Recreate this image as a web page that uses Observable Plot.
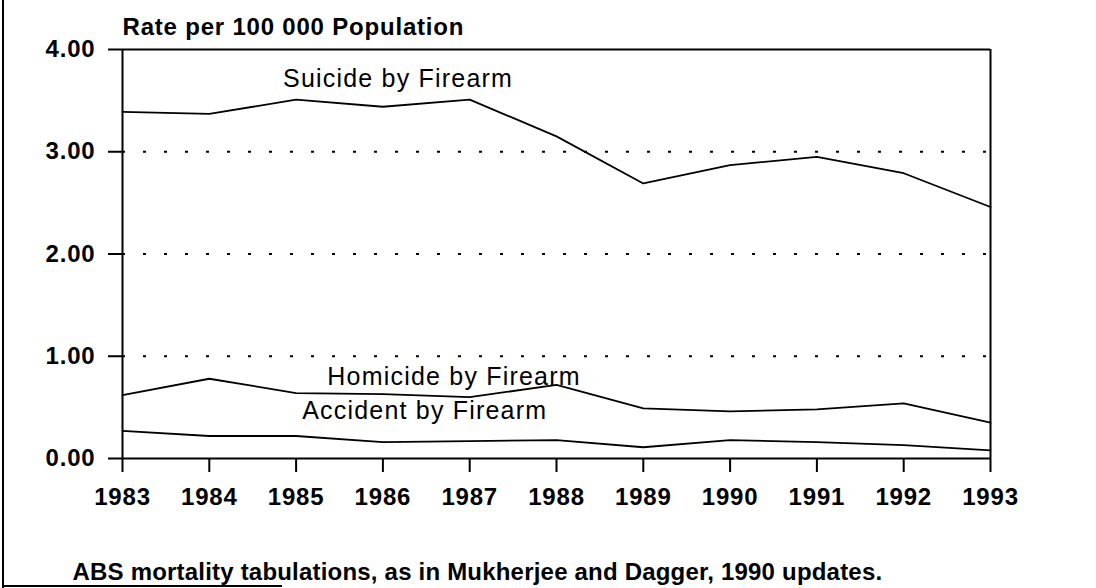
<!DOCTYPE html>
<html>
<head>
<meta charset="utf-8">
<script src="https://cdn.jsdelivr.net/npm/d3@7"></script>
<script src="https://cdn.jsdelivr.net/npm/@observablehq/plot@0.6"></script>
<style>
  html, body { margin: 0; padding: 0; background: #fff; }
  #wrap { position: relative; width: 1096px; height: 588px; overflow: hidden; }
  #wrap svg { position: absolute; left: 0; top: 0; }
  .border-left { position: absolute; left: 2px; top: 0; width: 2px; height: 588px; background: #000; }
  .border-bottom { position: absolute; left: 2px; top: 585px; width: 280px; height: 2px; background: #000; }
</style>
</head>
<body>
<div id="wrap"><div class="border-left"></div><div class="border-bottom"></div></div>
<script>
// ---- data ----
const years = [1983, 1984, 1985, 1986, 1987, 1988, 1989, 1990, 1991, 1992, 1993];
const suicide  = [3.39, 3.37, 3.51, 3.44, 3.51, 3.15, 2.69, 2.87, 2.95, 2.79, 2.46];
const homicide = [0.62, 0.78, 0.64, 0.63, 0.60, 0.72, 0.49, 0.46, 0.48, 0.54, 0.35];
const accident = [0.27, 0.22, 0.22, 0.16, 0.17, 0.18, 0.11, 0.18, 0.16, 0.13, 0.08];
const yTicks = [0, 1, 2, 3, 4];
const gridValues = [1, 2, 3];
const seriesNames = ["Suicide by Firearm", "Homicide by Firearm", "Accident by Firearm"];
const labelYear  = [1984.85, 1985.36, 1985.07];
const labelValue = [3.63, 0.72, 0.39];
const titleText = "Rate per 100 000 Population";
const captionText = "ABS mortality tabulations, as in Mukherjee and Dagger, 1990 updates.";

const rows = [];
[suicide, homicide, accident].forEach((vals, si) => {
  years.forEach((yr, i) => rows.push({series: seriesNames[si], year: yr, value: vals[i]}));
});
const labels = seriesNames.map((s, i) => ({text: s, year: labelYear[i], value: labelValue[i]}));

const FONT = "'Liberation Sans', Arial, Helvetica, sans-serif";

const chart = Plot.plot({
  width: 1096,
  height: 588,
  marginLeft: 122,
  marginRight: 106,
  marginTop: 49,
  marginBottom: 130,
  style: {fontFamily: FONT, background: "transparent", color: "#000"},
  x: {domain: [1983, 1993]},
  y: {domain: [0, 4]},
  marks: [
    Plot.ruleY(gridValues, {stroke: "#000", strokeWidth: 2, strokeDasharray: "3,18"}),
    Plot.ruleY([0, 4], {stroke: "#000", strokeWidth: 2}),
    Plot.ruleX([1983, 1993], {stroke: "#000", strokeWidth: 2}),
    Plot.axisY({ticks: yTicks, tickSize: 14, tickPadding: 13, strokeWidth: 2,
      tickFormat: d3.format(".2f"), fontSize: 24, fontWeight: "bold", label: null}),
    Plot.axisX({ticks: years, tickSize: 14, tickPadding: 15, strokeWidth: 2,
      tickFormat: d => String(d), fontSize: 24, fontWeight: "bold", label: null}),
    Plot.line(rows, {x: "year", y: "value", z: "series", stroke: "#000", strokeWidth: 1.8}),
    Plot.text(labels, {x: "year", y: "value", text: "text", textAnchor: "start",
      lineAnchor: "bottom", fontSize: 25, fill: "#000"}),
    Plot.text([titleText], {frameAnchor: "top-left", textAnchor: "start", lineAnchor: "bottom",
      dy: -15, fontSize: 24, fontWeight: "bold", fill: "#000"}),
    Plot.text([captionText], {frameAnchor: "bottom-left", textAnchor: "start", lineAnchor: "bottom",
      dx: -50, dy: 121, fontSize: 24, fontWeight: "bold", fill: "#000"})
  ]
});

// letter-spacing tweaks to match the scanned typography
d3.select(chart).selectAll("text").each(function() {
  const t = this.textContent;
  if (seriesNames.includes(t)) this.style.letterSpacing = "1.2px";
  else if (t === captionText) this.style.letterSpacing = "0.2px";
  else this.style.letterSpacing = "0.8px";
});

document.getElementById("wrap").appendChild(chart);
</script>
</body>
</html>
